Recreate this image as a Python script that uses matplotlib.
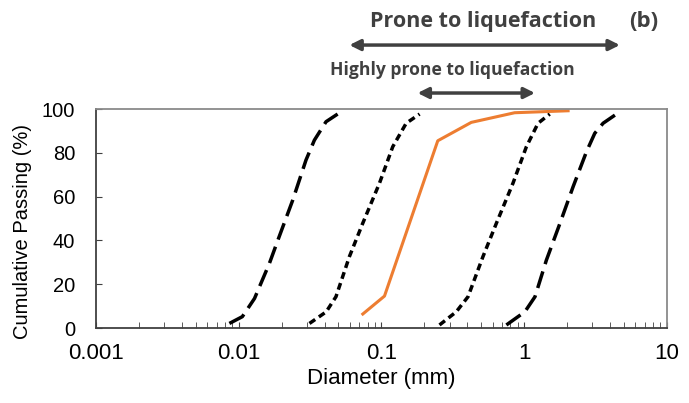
import matplotlib
matplotlib.use("Agg")
import matplotlib.pyplot as plt

# grain size bounds (mm) and cumulative passing (%)
lower_most_d = [0.0086, 0.0106, 0.0129, 0.0164, 0.0192, 0.0239, 0.0296, 0.0339, 0.0409, 0.0493]
lower_most_p = [2.1, 5.2, 13.5, 29.5, 41.7, 58.4, 76.7, 85.8, 94.2, 97.7]

lower_high_d = [0.0313, 0.041, 0.048, 0.0596, 0.0739, 0.0968, 0.120, 0.149, 0.185]
lower_high_p = [2.1, 7.4, 14.3, 32.6, 47.8, 66.1, 82.8, 93.5, 97.7]

upper_high_d = [0.255, 0.334, 0.404, 0.514, 0.638, 0.834, 1.036, 1.25, 1.51]
upper_high_p = [1.4, 7.4, 14.3, 32.6, 47.8, 66.1, 82.8, 93.5, 97.7]

upper_most_d = [0.75, 1.01, 1.19, 1.43, 1.78, 2.20, 2.73, 3.12, 3.57, 4.43]
upper_most_p = [1.4, 7.4, 14.3, 31.0, 47.8, 64.5, 80.5, 88.9, 93.5, 97.7]

sample_d = [0.074, 0.105, 0.248, 0.426, 0.857, 2.03]
sample_p = [6.4, 14.6, 85.5, 93.9, 98.3, 99.2]

plt.rcParams["font.family"] = ["Liberation Sans", "DejaVu Sans"]

fig = plt.figure(figsize=(6.89, 4.03), dpi=100)
ax = fig.add_axes([0.1393, 0.186, 0.8287, 0.5435])

long_dash = (5, 2.2)
short_dash = (2, 1.3)
ax.plot(lower_most_d, lower_most_p, color="black", lw=2.5, dashes=long_dash)
ax.plot(lower_high_d, lower_high_p, color="black", lw=2.5, dashes=short_dash)
ax.plot(upper_high_d, upper_high_p, color="black", lw=2.5, dashes=short_dash)
ax.plot(upper_most_d, upper_most_p, color="black", lw=2.5, dashes=long_dash)
ax.plot(sample_d, sample_p, color="#ED7D31", lw=2.2)

ax.set_xscale("log")
ax.set_xlim(0.001, 10)
ax.set_ylim(0, 100)
ax.set_xticks([0.001, 0.01, 0.1, 1, 10])
ax.set_xticklabels(["0.001", "0.01", "0.1", "1", "10"])
ax.set_yticks([0, 20, 40, 60, 80, 100])
ax.tick_params(axis="x", which="both", direction="in", length=4, labelsize=16, pad=11, color="#404040")
ax.tick_params(axis="y", direction="in", length=4, labelsize=14.5, pad=15, color="#404040")
ax.set_xlabel("Diameter (mm)", fontsize=16, labelpad=3)
ax.set_ylabel("Cumulative Passing (%)", fontsize=14.5)
ax.yaxis.set_label_coords(-0.112, 0.44)

for s in ["left", "bottom"]:
    ax.spines[s].set_color("#404040")
    ax.spines[s].set_linewidth(1.3)
for s in ["top", "right"]:
    ax.spines[s].set_color("#8a8a8a")
    ax.spines[s].set_linewidth(1.3)

# liquefaction ranges above the plot
tr = ax.get_xaxis_transform()
arrow_kw = dict(arrowstyle="<|-|>", color="#404040", lw=2.5, mutation_scale=16, shrinkA=0, shrinkB=0)
ax.annotate("", xy=(0.0596, 1.292), xytext=(4.68, 1.292), xycoords=tr, textcoords=tr,
            arrowprops=arrow_kw, annotation_clip=False)
ax.annotate("", xy=(0.179, 1.073), xytext=(1.19, 1.073), xycoords=tr, textcoords=tr,
            arrowprops=arrow_kw, annotation_clip=False)
ax.text(0.515, 1.40, "Prone to liquefaction", transform=tr, ha="center", va="center",
        fontsize=15.5, fontweight="bold", color="#404040", family="Open Sans")
ax.text(0.315, 1.18, "Highly prone to liquefaction", transform=tr, ha="center", va="center",
        fontsize=12.6, fontweight="bold", color="#404040", family="Open Sans")
ax.text(6.9, 1.40, "(b)", transform=tr, ha="center", va="center",
        fontsize=16, fontweight="bold", color="#404040", family="Open Sans")

fig.savefig("out.png", dpi=100)
